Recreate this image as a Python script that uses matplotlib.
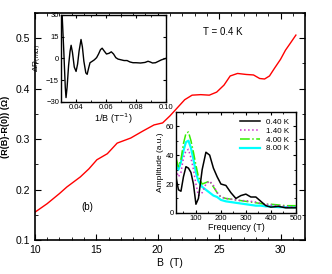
import numpy as np
import matplotlib.pyplot as plt
from matplotlib.ticker import MultipleLocator

plt.rcParams['font.family'] = ['Liberation Sans', 'DejaVu Sans']
plt.rcParams['xtick.direction'] = 'in'
plt.rcParams['ytick.direction'] = 'in'

# main curve: field B (T) vs R(B)-R(0) (Ohm)
B = [10, 11, 12, 12.6, 13.7, 14.4, 15.05, 15.9, 16.7, 17.8, 18.8, 19.7, 20.4,
     21.0, 21.6, 22.2, 22.8, 23.5, 24.2, 24.8, 25.4, 25.9, 26.5, 27.2, 27.8,
     28.3, 28.7, 29.1, 29.5, 30.0, 30.4, 30.8, 31.25]
R = [0.155, 0.172, 0.192, 0.205, 0.225, 0.241, 0.259, 0.271, 0.292, 0.302,
     0.316, 0.328, 0.332, 0.346, 0.362, 0.378, 0.387, 0.388, 0.387, 0.393,
     0.407, 0.425, 0.430, 0.428, 0.427, 0.420, 0.419, 0.425, 0.440, 0.458,
     0.476, 0.490, 0.506]

# inset 1: oscillatory part vs 1/B
inv_B = [0.0300, 0.0307, 0.0318, 0.0328, 0.0333, 0.0340, 0.0350, 0.0360,
         0.0367, 0.0376, 0.0388, 0.0400, 0.0410, 0.0420, 0.0433, 0.0442,
         0.0452, 0.0465, 0.0474, 0.0483, 0.0493, 0.0508, 0.0522, 0.0537,
         0.0550, 0.0563, 0.0574, 0.0588, 0.0603, 0.0620, 0.0635, 0.0650,
         0.0665, 0.0680, 0.0700, 0.0720, 0.0740, 0.0760, 0.0780, 0.0800,
         0.0830, 0.0860, 0.0880, 0.0895, 0.0910, 0.0930, 0.0950, 0.0970,
         0.1000]
dR = [45, 30, 5, -20, -27, -20, -5, 5, 9, 4, -6, -9, -4, 5, 13, 8, -2, -10,
      -11, -7, -3, -2, -1, 0.5, 3, 6, 7, 5, 3, 3.5, 4.5, 3, 0.5, -0.5, -1,
      -1.5, -1.5, -2.5, -3, -3, -3.2, -2.8, -2, -2.5, -3.2, -3, -2, -1, 0]

# inset 2: FFT amplitude vs frequency
freq = [20, 30, 40, 50, 60, 70, 80, 90, 100, 110, 125, 140, 155, 170, 185,
        200, 220, 240, 260, 280, 300, 320, 340, 360, 380, 400, 430, 460, 500]
amp_040 = [25, 16, 15, 25, 32, 31, 28, 20, 6, 10, 30, 42, 40, 31, 25, 20,
           19, 14, 10, 12, 13, 11, 11, 8, 5, 4, 4.5, 3.5, 3.5]
amp_140 = [30, 25, 28, 38, 43, 44, 38, 30, 20, 12, 14, 20, 22, 19, 14, 11,
           10, 9.5, 9, 8.5, 8.5, 8, 7.5, 6.5, 6, 5.5, 5, 4.5, 4]
amp_400 = [38, 32, 37, 48, 55, 56, 50, 42, 33, 25, 20, 21, 22, 18, 14, 11,
           10, 9.5, 9, 8.5, 8, 7.5, 7, 6.5, 6, 6, 5.5, 5, 5]
amp_800 = [35, 30, 35, 43, 49, 50, 45, 37, 28, 22, 18, 16, 14, 12, 11, 9,
           8, 7.5, 7, 6.5, 6, 5.5, 5, 5, 4.5, 4.5, 4, 4, 4]

fig = plt.figure(figsize=(3.32, 2.74), dpi=100)
ax = fig.add_axes([0.105, 0.124, 0.814, 0.829])
ax.plot(B, R, color='red', lw=1.0)
ax.set_xlim(10, 32)
ax.set_ylim(0.1, 0.55)
ax.xaxis.set_major_locator(MultipleLocator(5))
ax.xaxis.set_minor_locator(MultipleLocator(1))
ax.yaxis.set_major_locator(MultipleLocator(0.1))
ax.yaxis.set_minor_locator(MultipleLocator(0.05))
ax.tick_params(which='both', top=True, right=True, labelsize=7.5)
ax.tick_params(which='major', length=4)
ax.tick_params(which='minor', length=2)
ax.set_xlabel('B  (T)', fontsize=7.5, labelpad=2)
ax.set_ylabel('(R(B)-R(0)) (Ω)', fontsize=6.5, fontweight='bold', labelpad=4)
ax.text(23.7, 0.506, 'T = 0.4 K', fontsize=7)
ax.text(13.8, 0.160, '(b)', fontsize=7)
for s in ax.spines.values():
    s.set_linewidth(1.2)

# inset 1
ax1 = fig.add_axes([0.184, 0.628, 0.316, 0.318])
ax1.plot(inv_B, dR, color='black', lw=1.0)
ax1.set_xlim(0.03, 0.10)
ax1.set_ylim(-30, 30)
ax1.set_xticks([0.04, 0.06, 0.08, 0.10])
ax1.set_xticklabels(['0.04', '0.06', '0.08', '0.10'])
ax1.xaxis.set_minor_locator(MultipleLocator(0.01))
ax1.set_yticks([-30, -15, 0, 15, 30])
ax1.tick_params(which='both', top=True, right=True, labelsize=5.5, pad=1.5)
ax1.tick_params(which='major', length=2.5)
ax1.tick_params(which='minor', length=1.5)
ax1.set_xlabel('1/B (T$^{-1}$)', fontsize=6.5, labelpad=0.5)
ax1.set_ylabel('ΔR$_{(m\\Omega)}$', fontsize=6, labelpad=0)
ax1.yaxis.set_label_coords(-0.17, 0.5)
for s in ax1.spines.values():
    s.set_linewidth(1.0)

# inset 2
ax2 = fig.add_axes([0.530, 0.223, 0.361, 0.369])
ax2.plot(freq, amp_800, color='cyan', lw=1.6, label='8.00 K')
ax2.plot(freq, amp_400, color='#33ee00', lw=1.1, ls='-.', label='4.00 K')
ax2.plot(freq, amp_140, color='#cc33cc', lw=1.1, ls=':', label='1.40 K')
ax2.plot(freq, amp_040, color='black', lw=1.1, label='0.40 K')
h, l = ax2.get_legend_handles_labels()
ax2.legend(h[::-1], l[::-1], loc='upper right', fontsize=5.8, frameon=False,
           handlelength=2.5, labelspacing=0.15, borderpad=0.3)
ax2.set_xlim(20, 500)
ax2.set_ylim(0, 70)
ax2.set_xticks([100, 200, 300, 400, 500])
ax2.xaxis.set_minor_locator(MultipleLocator(50))
ax2.set_yticks([0, 20, 40, 60])
ax2.yaxis.set_minor_locator(MultipleLocator(10))
ax2.tick_params(which='both', top=True, right=True, labelsize=5.5, pad=1.5)
ax2.tick_params(which='major', length=2.5)
ax2.tick_params(which='minor', length=1.5)
ax2.set_xlabel('Frequency (T)', fontsize=6.5, labelpad=1)
ax2.set_ylabel('Amplitude (a.u.)', fontsize=6, labelpad=1)
for s in ax2.spines.values():
    s.set_linewidth(1.0)

fig.savefig('out.png', dpi=100)
